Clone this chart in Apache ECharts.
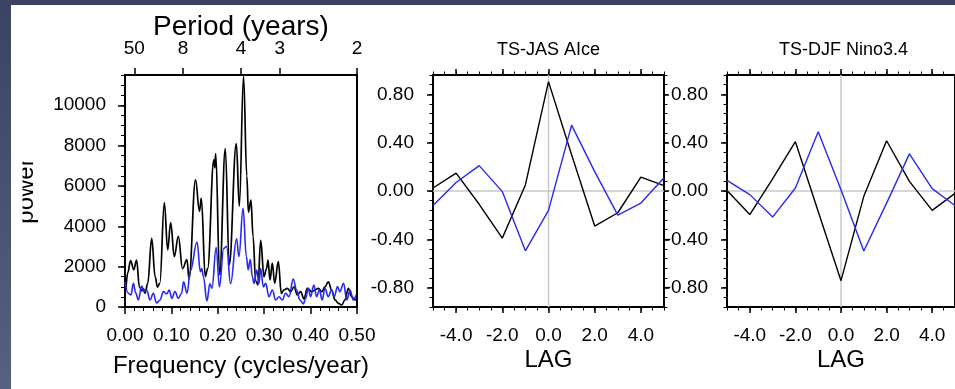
<!DOCTYPE html>
<html><head><meta charset="utf-8">
<script src="https://cdn.jsdelivr.net/npm/echarts@6/dist/echarts.min.js"></script>
<style>html,body{margin:0;padding:0;background:#fff}#c{width:955px;height:389px}</style>
</head><body><div id="c"></div>
<script>
// ---------- data ----------
// Panel 1: power spectrum, [frequency (cycles/year), power]
const spectrumBlack = [
 [0.002,900],[0.006,1700],[0.012,2300],[0.019,1850],[0.025,2330],[0.031,1000],[0.036,800],[0.040,900],[0.043,680],[0.049,1170],
 [0.0575,3400],[0.065,1500],[0.070,980],[0.075,1170],[0.0848,5170],[0.092,2830],[0.0984,4180],[0.1063,2500],[0.1149,3500],[0.124,1900],
 [0.1335,2350],[0.138,1400],[0.152,6300],[0.1605,4750],[0.1645,5400],[0.173,1500],[0.178,1900],[0.1915,7300],[0.1935,6900],[0.1955,7600],
 [0.204,1600],[0.2162,7850],[0.2247,2100],[0.2399,8100],[0.2464,5000],[0.2555,11450],[0.2625,6500],[0.266,4700],[0.2715,5300],[0.276,3500],
 [0.2815,1300],[0.2866,1100],[0.2924,3300],[0.2996,1500],[0.305,1900],[0.3082,2330],[0.3125,1340],[0.3175,2170],[0.3226,1170],[0.3304,2250],
 [0.3369,680],[0.3427,850],[0.3498,925],[0.357,760],[0.3642,1000],[0.3714,600],[0.3785,760],[0.3857,400],[0.393,925],[0.4023,760],
 [0.4095,843],[0.4167,925],[0.424,760],[0.431,1000],[0.4382,1250],[0.4454,843],[0.4526,350],[0.4598,180],[0.467,100],[0.4741,350],
 [0.4813,925],[0.4885,512],[0.4957,347],[0.5,450]
];
const spectrumBlue = [
 [0.000,1250],[0.007,680],[0.013,600],[0.018,1170],[0.023,700],[0.0287,350],[0.036,1040],[0.041,760],[0.0467,840],[0.054,350],
 [0.061,680],[0.068,200],[0.0754,350],[0.0826,760],[0.0898,650],[0.0955,840],[0.1006,430],[0.1078,760],[0.115,430],[0.122,680],
 [0.1264,1250],[0.1336,680],[0.141,1800],[0.1552,3220],[0.1625,1750],[0.1655,1900],[0.169,1500],[0.1765,300],[0.183,1150],[0.1875,925],
 [0.1965,2950],[0.2035,1000],[0.2126,2900],[0.219,3000],[0.2275,1150],[0.2405,3380],[0.2455,2500],[0.2545,4890],[0.2615,2500],[0.2655,1850],
 [0.270,2350],[0.2745,1500],[0.278,1170],[0.2838,1835],[0.2888,1170],[0.2924,1900],[0.2981,1000],[0.3032,1170],[0.3103,510],[0.3175,840],
 [0.3247,350],[0.3319,510],[0.339,350],[0.3462,680],[0.3534,510],[0.3627,1380],[0.3699,840],[0.3771,350],[0.3843,150],[0.389,400],
 [0.395,925],[0.40,512],[0.407,1090],[0.413,512],[0.419,843],[0.425,347],[0.431,925],[0.438,512],[0.445,843],[0.451,512],
 [0.458,1008],[0.463,760],[0.471,1174],[0.478,347],[0.485,843],[0.492,347],[0.498,595]
];
const freqMin = 0, freqMax = 0.5, freqStep = 0.1;
const periodTicks = [50, 8, 4, 3, 2];
const powerMax = 11500;
const powerTicks = [0, 2000, 4000, 6000, 8000, 10000];

// Panels 2 and 3: lag correlations
const lags = [-5, -4, -3, -2, -1, 0, 1, 2, 3, 4, 5];
const lagTicks = [-4, -2, 0, 2, 4];
const corrTicks = [-0.8, -0.4, 0, 0.4, 0.8];
const corrMin = -0.96, corrMax = 0.96;
const jasBlack = [0.025, 0.148, -0.11, -0.39, 0.05, 0.905, 0.30, -0.29, -0.18, 0.115, 0.045];
const jasBlue  = [-0.12, 0.07, 0.21, -0.005, -0.495, -0.16, 0.545, 0.16, -0.20, -0.10, 0.11];
const djfBlack = [0.005, -0.195, 0.10, 0.408, -0.17, -0.742, -0.044, 0.416, 0.08, -0.16, -0.02];
const djfBlue  = [0.088, -0.03, -0.216, 0.025, 0.49, 0.01, -0.496, -0.10, 0.307, 0.02, -0.12];
const panelTitles = ['TS-JAS AIce', 'TS-DJF Nino3.4'];

// ---------- chart ----------
const FONT = 'Liberation Sans, Arial, Helvetica, sans-serif';
const BLACK = '#000', BLUE = '#2828f4';
const chart = echarts.init(document.getElementById('c'), null, {renderer: 'canvas'});

const grids = [
  {left: 125, top: 75, width: 232, height: 232, z: 0},
  {left: 433, top: 75, width: 231, height: 232, z: 1, backgroundColor: '#fff'},
  {left: 727, top: 75, width: 233, height: 232, z: 0}
].map(g => Object.assign({show: true, borderColor: '#000', borderWidth: 2, backgroundColor: 'transparent', containLabel: false}, g));

function baseAxis(o) {
  return Object.assign({
    type: 'value', axisLine: {show: false, onZero: false}, splitLine: {show: false}, minorSplitLine: {show: false},
    axisTick: {show: true, inside: false, length: 6, lineStyle: {color: '#000', width: 1.5}},
    axisLabel: {show: false}, nameMoveOverlap: false
  }, o);
}
const lab = (extra) => Object.assign({show: true, color: '#000', fontFamily: FONT, fontSize: 19}, extra);
const nameStyle = (size) => ({color: '#000', fontFamily: FONT, fontSize: size});

const xAxes = [], yAxes = [];
// Panel 1
xAxes.push(baseAxis({gridIndex: 0, position: 'bottom', min: freqMin, max: freqMax, interval: freqStep,
  axisTick: {show: true, length: 7, lineStyle: {color: '#000', width: 1.5}},
  minorTick: {show: true, splitNumber: 5, length: 4, lineStyle: {color: '#000', width: 1}},
  axisLabel: lab({margin: 19, formatter: v => v.toFixed(2)}),
  name: 'Frequency (cycles/year)', nameLocation: 'middle', nameGap: 47, nameTextStyle: nameStyle(24)}));
const periodFreqs = periodTicks.map(p => 1 / p);
xAxes.push(baseAxis({gridIndex: 0, position: 'top', min: freqMin, max: freqMax,
  axisTick: {show: true, length: 7, customValues: periodFreqs, lineStyle: {color: '#000', width: 1.5}},
  axisLabel: lab({margin: 17, customValues: periodFreqs, formatter: v => String(Math.round(1 / v))}),
  name: 'Period (years)', nameLocation: 'middle', nameGap: 34, nameTextStyle: nameStyle(28)}));
yAxes.push(baseAxis({gridIndex: 0, position: 'left', min: 0, max: powerMax,
  axisTick: {show: true, length: 7, customValues: powerTicks, lineStyle: {color: '#000', width: 1.5}},
  axisLabel: lab({margin: 19, customValues: powerTicks, formatter: v => String(v)}),
  name: 'power', nameLocation: 'middle', nameRotate: 90, nameGap: 87, nameTextStyle: nameStyle(24)}));
yAxes.push(baseAxis({gridIndex: 0, position: 'left', min: 0, max: powerMax, interval: 500,
  axisTick: {show: true, length: 4, lineStyle: {color: '#000', width: 1}}}));

// Panels 2, 3
function lagPanel(gi, withRight, axisZ) {
  const xi = xAxes.length, yi = yAxes.length;
  xAxes.push(baseAxis({gridIndex: gi, position: 'bottom', min: -5, max: 5, z: axisZ,
    axisTick: {show: true, length: 6, customValues: lagTicks, lineStyle: {color: '#000', width: 1.5}},
    axisLabel: lab({margin: 19, customValues: lagTicks, formatter: v => v.toFixed(1)}),
    name: 'LAG', nameLocation: 'middle', nameGap: 41, nameTextStyle: nameStyle(24)}));
  xAxes.push(baseAxis({gridIndex: gi, position: 'bottom', min: -5, max: 5, interval: 0.5, z: axisZ,
    axisTick: {show: true, length: 3.5, lineStyle: {color: '#000', width: 1}}}));
  xAxes.push(baseAxis({gridIndex: gi, position: 'top', min: -5, max: 5, z: axisZ,
    axisTick: {show: true, length: 6, customValues: lagTicks, lineStyle: {color: '#000', width: 1.5}}}));
  xAxes.push(baseAxis({gridIndex: gi, position: 'top', min: -5, max: 5, interval: 0.5, z: axisZ,
    axisTick: {show: true, length: 3.5, lineStyle: {color: '#000', width: 1}}}));
  yAxes.push(baseAxis({gridIndex: gi, position: 'left', min: corrMin, max: corrMax, z: axisZ,
    axisTick: {show: true, length: 6, customValues: corrTicks, lineStyle: {color: '#000', width: 1.5}},
    axisLabel: lab({margin: 19, customValues: corrTicks, formatter: v => v.toFixed(2)})}));
  yAxes.push(baseAxis({gridIndex: gi, position: 'left', min: corrMin, max: corrMax, interval: 0.08, z: axisZ,
    axisTick: {show: true, length: 3.5, lineStyle: {color: '#000', width: 1}}}));
  if (withRight) {
    yAxes.push(baseAxis({gridIndex: gi, position: 'right', min: corrMin, max: corrMax, z: axisZ,
      axisTick: {show: true, length: 5, customValues: corrTicks, lineStyle: {color: '#000', width: 1.5}}}));
    yAxes.push(baseAxis({gridIndex: gi, position: 'right', min: corrMin, max: corrMax, interval: 0.08, z: axisZ,
      axisTick: {show: true, length: 3.5, lineStyle: {color: '#000', width: 1}}}));
  }
  return {xi, yi};
}
const p2 = lagPanel(1, true, 2);
const p3 = lagPanel(2, false, 0);

const lineS = (xi, yi, data, color, z, w) => ({
  type: 'line', xAxisIndex: xi, yAxisIndex: yi, data, showSymbol: false, symbol: 'none',
  lineStyle: {color, width: w || 1.4}, itemStyle: {color}, z, silent: true, animation: false
});
const zeroLines = (p, z) => [
  lineS(p.xi, p.yi, [[-5, 0], [5, 0]], '#c8c8c8', z, 1.5),
  lineS(p.xi, p.yi, [[0, corrMin], [0, corrMax]], '#c8c8c8', z, 1.5)
];
const pair = (arr) => lags.map((l, i) => [l, arr[i]]);

const series = [
  Object.assign(lineS(0, 0, spectrumBlack, BLACK, 3, 1.7), {smooth: 0.4, smoothMonotone: 'x'}),
  Object.assign(lineS(0, 0, spectrumBlue, BLUE, 4, 1.6), {smooth: 0.4, smoothMonotone: 'x'}),
  ...zeroLines(p2, 3),
  lineS(p2.xi, p2.yi, pair(jasBlack), BLACK, 4),
  lineS(p2.xi, p2.yi, pair(jasBlue), BLUE, 5),
  ...zeroLines(p3, 3),
  lineS(p3.xi, p3.yi, pair(djfBlack), BLACK, 4),
  lineS(p3.xi, p3.yi, pair(djfBlue), BLUE, 5)
];

const graphics = [
  {type: 'text', x: 548.5, y: 50, z: 10, style: {text: panelTitles[0], fill: '#000', font: '18px ' + FONT, textAlign: 'center', textVerticalAlign: 'middle'}},
  {type: 'text', x: 843.5, y: 50, z: 10, style: {text: panelTitles[1], fill: '#000', font: '18px ' + FONT, textAlign: 'center', textVerticalAlign: 'middle'}},
  // white mask that trims the rotated "power" label as in the original
  {type: 'rect', zlevel: 1, z: 90, shape: {x: 11, y: 140, width: 11.5, height: 110}, style: {fill: '#fff'}},
  // dark frame strips
  {type: 'rect', zlevel: 1, z: 100, shape: {x: 0, y: 0, width: 11, height: 389},
    style: {fill: new echarts.graphic.LinearGradient(0, 0, 0, 1, [{offset: 0, color: '#3a4462'}, {offset: 1, color: '#57617f'}])}},
  {type: 'rect', zlevel: 1, z: 100, shape: {x: 0, y: 0, width: 955, height: 5}, style: {fill: '#3b4563'}}
];

chart.setOption({
  animation: false,
  backgroundColor: '#fff',
  textStyle: {fontFamily: FONT},
  grid: grids,
  xAxis: xAxes,
  yAxis: yAxes,
  series,
  graphic: {elements: graphics}
});
</script></body></html>
